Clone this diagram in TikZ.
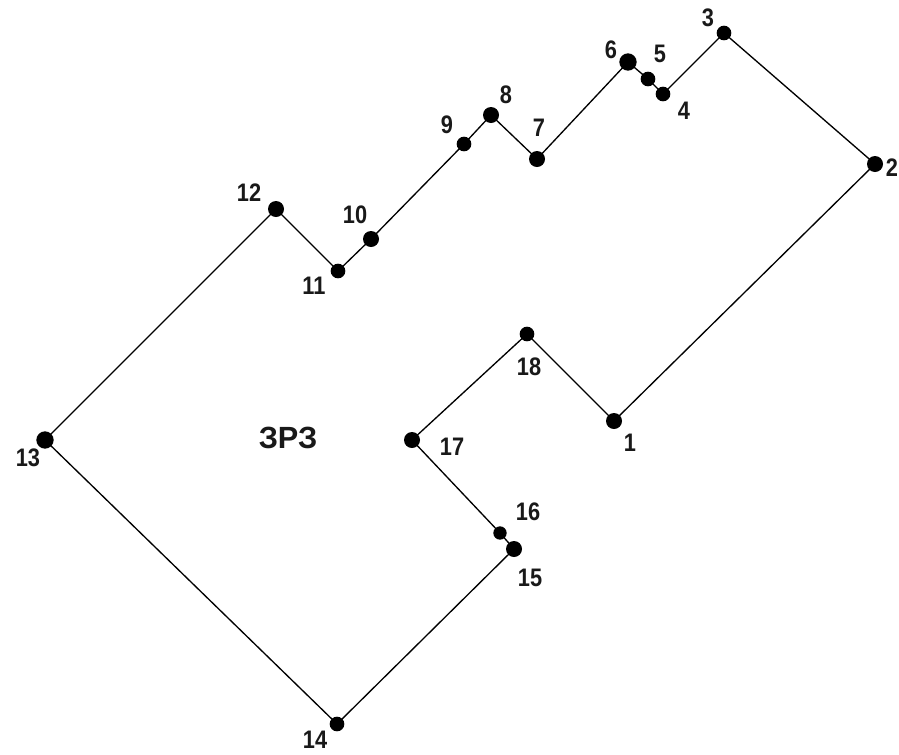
\documentclass[tikz,border=0pt]{standalone}
\usepackage{fontspec}
\setmainfont{Liberation Sans}
\newfontfamily\lblfont[FakeStretch=0.86]{Liberation Sans}
\tikzset{
 pt/.style={circle,fill=black,inner sep=0pt,minimum size=#1},
 pt/.default=13pt,
 lbl/.style={font=\lblfont\fontsize{19}{20}\selectfont\bfseries,text=black!90,inner sep=0pt},
 edge/.style={draw=black,line width=1pt}
}
\begin{document}
\begin{tikzpicture}[x=0.75pt,y=-0.75pt]
\useasboundingbox[fill=white] (0,0) rectangle (899,754);
\foreach \n/\x/\y/\s in {1/614/421/12pt,2/875/164/12pt,3/724/33/11pt,4/663/94/11pt,5/648/79/11pt,6/628/62/13pt,7/537/159/12pt,8/491/115/12pt,9/464/144/11pt,10/371/239/12pt,11/338/271/11pt,12/276/209/12pt,13/45/440/13pt,14/337/724/11pt,15/514/549/12pt,16/500/533/10pt,17/412/440/12pt,18/527/334/11pt}{
 \node[pt=\s] (p\n) at (\x,\y) {};
}
\draw[edge] (p1.center)--(p2.center)--(p3.center)--(p4.center)--(p5.center)--(p6.center)--(p7.center)--(p8.center)--(p9.center)--(p10.center)--(p11.center)--(p12.center)--(p13.center)--(p14.center)--(p15.center)--(p16.center)--(p17.center)--(p18.center)--(p1.center);
\foreach \n/\x/\y in {1/630/443,2/892/168,3/708/18,4/684/111,5/660/54,6/611/50,7/539/128,8/506/95,9/447/125,10/355/215,11/314/286,12/249/193,13/28/458,14/315/740,15/530/578,16/528/512,17/452/447,18/529/367}{
 \node[lbl] (t\n) at (\x,\y) {\n};
}
\node[font=\fontsize{23}{25}\selectfont\bfseries,text=black!90,inner sep=0pt] (lab) at (288,438) {ЗРЗ};
\end{tikzpicture}
\end{document}
